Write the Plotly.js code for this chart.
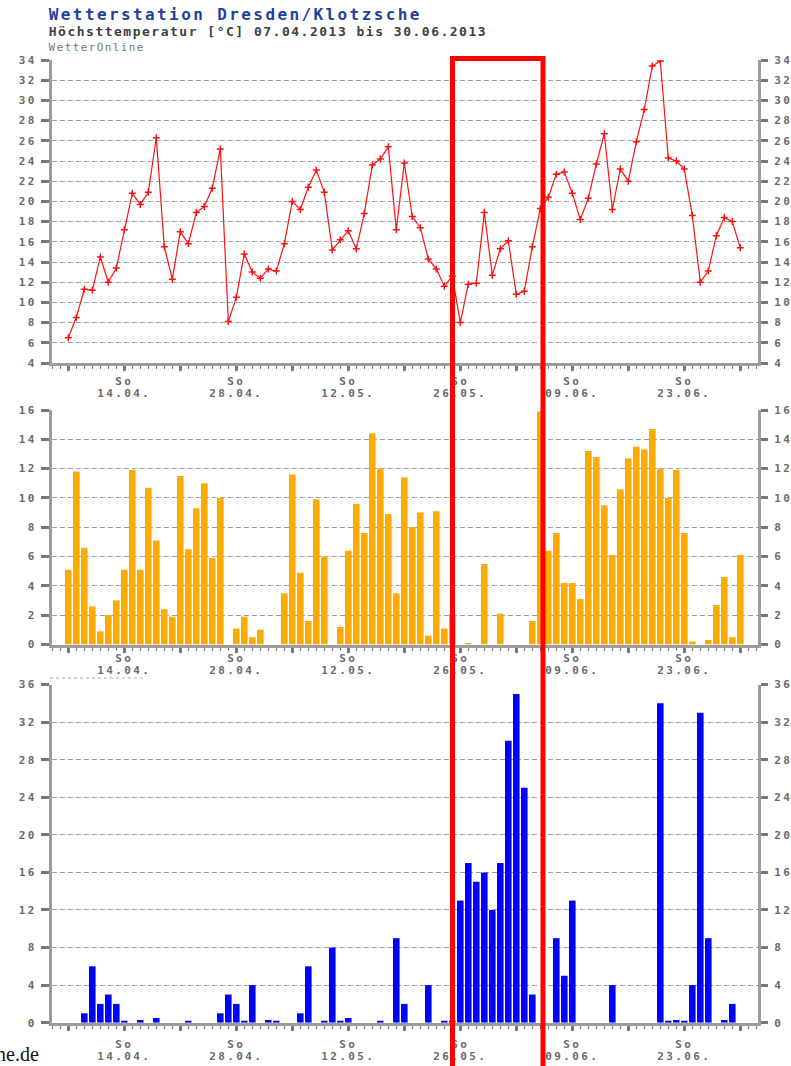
<!DOCTYPE html>
<html>
<head>
<meta charset="utf-8">
<script src="https://cdn.plot.ly/plotly-3.0.1.min.js"></script>
<style>
  html, body { margin: 0; padding: 0; background: #fff; }
  #chart { width: 791px; height: 1066px; }
  g[class$="tick"] text { letter-spacing: 2.4px; }
  g.annotation[data-index="0"] text { letter-spacing: 2.4px; }
  g.annotation[data-index="1"] text { letter-spacing: 1.5px; }
  g.annotation[data-index="2"] text { letter-spacing: 1.4px; }
</style>
</head>
<body>
<div id="chart"></div>
<script>
// ---- data (07.04.2013 .. 30.06.2013, one value per day) ----
const startDate = '2013-04-07';
const tempMax = [6.5, 8.5, 11.3, 11.2, 14.5, 12.0, 13.4, 17.2, 20.8, 19.7,
  20.9, 26.3, 15.5, 12.3, 17.0, 15.8, 18.9, 19.5, 21.3, 25.2,
  8.1, 10.5, 14.8, 13.0, 12.4, 13.3, 13.1, 15.8, 20.0, 19.2,
  21.4, 23.1, 20.9, 15.2, 16.2, 17.1, 15.3, 18.8, 23.6, 24.2,
  25.4, 17.2, 23.8, 18.5, 17.4, 14.3, 13.3, 11.6, 12.6, 8.0,
  11.8, 11.9, 18.9, 12.7, 15.3, 16.1, 10.8, 11.1, 15.5, 19.3,
  20.4, 22.7, 22.9, 20.8, 18.2, 20.3, 23.7, 26.7, 19.2, 23.2,
  22.0, 25.9, 29.1, 33.4, 33.9, 24.3, 24.0, 23.2, 18.6, 12.0,
  13.1, 16.6, 18.4, 18.0, 15.4];
const sunHours = [5.1, 11.8, 6.6, 2.6, 0.9, 2.0, 3.0, 5.1, 11.9, 5.1,
  10.7, 7.1, 2.4, 1.9, 11.5, 6.5, 9.3, 11.0, 5.9, 10.0,
  0, 1.1, 1.9, 0.5, 1.0, 0, 0, 3.5, 11.6, 4.9,
  1.6, 9.9, 6.0, 0, 1.2, 6.4, 9.6, 7.6, 14.4, 12.0,
  8.9, 3.5, 11.4, 8.0, 9.0, 0.6, 9.1, 1.1, 2.1, 0,
  0.1, 0, 5.5, 0, 2.1, 0, 0, 0, 1.6, 15.9,
  6.4, 7.6, 4.2, 4.2, 3.1, 13.2, 12.8, 9.5, 6.1, 10.6,
  12.7, 13.5, 13.3, 14.7, 12.0, 10.0, 11.9, 7.6, 0.2, 0,
  0.3, 2.7, 4.6, 0.5, 6.1];
const precip = [0, 0, 1, 6, 2, 3, 2, 0.2, 0, 0.3,
  0, 0.5, 0, 0, 0, 0.2, 0, 0, 0, 1,
  3, 2, 0.2, 4, 0, 0.3, 0.2, 0, 0, 1,
  6, 0, 0.2, 8, 0.2, 0.5, 0, 0, 0, 0.2,
  0, 9, 2, 0, 0, 4, 0, 0.2, 0.2, 13,
  17, 15, 16, 12, 17, 30, 35, 25, 3, 0,
  0, 9, 5, 13, 0, 0, 0, 0, 4, 0,
  0, 0, 0, 0, 34, 0.2, 0.3, 0.2, 4, 33,
  9, 0, 0.3, 2, 0];
const weekTicks = ['2013-04-07', '2013-04-14', '2013-04-21', '2013-04-28', '2013-05-05',
  '2013-05-12', '2013-05-19', '2013-05-26', '2013-06-02', '2013-06-09',
  '2013-06-16', '2013-06-23', '2013-06-30'];
const weekLabels = ['', 'So<br>14.04.', '', 'So<br>28.04.', '', 'So<br>12.05.', '',
  'So<br>26.05.', '', 'So<br>09.06.', '', 'So<br>23.06.', ''];

// ---- helpers (pixel -> paper) ----
const W = 791, H = 1066;
const PX = v => v / W;
const PY = v => 1 - v / H;
const DAY = 86400000;

const fontMono = 'DejaVu Sans Mono, Liberation Mono, monospace';
const tickFont = {family: fontMono, size: 11, color: '#6a6a6a', weight: 'bold'};
const xRange = ['2013-04-04 23:06', '2013-07-02 05:06'];
const xDomain = [PX(52), PX(758)];

function xAxis(anchor, standoff) {
  return {
    type: 'date', range: xRange, domain: xDomain, anchor: anchor,
    tickmode: 'array', tickvals: weekTicks, ticktext: weekLabels,
    ticks: 'outside', ticklen: 5, tickwidth: 3, tickcolor: '#777',
    ticklabelstandoff: standoff,
    showline: true, linecolor: '#9c9c9c', linewidth: 3,
    showgrid: false, zeroline: false, tickfont: tickFont,
    minor: {tickmode: 'linear', tick0: startDate, dtick: DAY, ticks: 'outside',
            ticklen: 3, tickwidth: 1, tickcolor: '#777', showgrid: false}
  };
}
function yAxis(domain, range, dtick, anchor) {
  return {
    domain: domain, range: range, dtick: dtick, tick0: 0, anchor: anchor,
    ticks: 'outside', ticklen: 8, tickwidth: 3, tickcolor: '#777',
    ticklabelstandoff: 2,
    showline: true, linecolor: '#9c9c9c', linewidth: 3,
    showgrid: true, gridcolor: '#a0a0a0', gridwidth: 1, griddash: '5px,3px',
    zeroline: false, tickfont: tickFont, fixedrange: true
  };
}
function yAxisRight(over, range, dtick, anchor) {
  return {
    overlaying: over, side: 'right', anchor: anchor, range: range, dtick: dtick, tick0: 0,
    ticks: 'outside', ticklen: 7, tickwidth: 3, tickcolor: '#777',
    ticklabelstandoff: 4,
    showline: true, linecolor: '#9c9c9c', linewidth: 3,
    showgrid: false, zeroline: false, tickfont: tickFont, fixedrange: true
  };
}

const barWidth = 0.82 * DAY;
const traces = [
  {type: 'scatter', mode: 'lines+markers', x0: startDate, dx: DAY, y: tempMax,
   xaxis: 'x', yaxis: 'y', line: {color: '#ff1010', width: 1.2},
   marker: {symbol: 'cross-thin', size: 5, line: {color: '#ff1010', width: 1.5}},
   hoverinfo: 'skip'},
  {type: 'scatter', mode: 'lines', x0: startDate, dx: DAY, y: tempMax,
   xaxis: 'x', yaxis: 'y4', opacity: 0, line: {width: 0}, hoverinfo: 'skip'},
  {type: 'bar', x0: startDate, dx: DAY, y: sunHours, width: barWidth,
   xaxis: 'x2', yaxis: 'y2', marker: {color: '#ffaa00', line: {width: 0}},
   hoverinfo: 'skip'},
  {type: 'bar', x0: startDate, dx: DAY, y: sunHours, width: barWidth,
   xaxis: 'x2', yaxis: 'y5', opacity: 0, marker: {line: {width: 0}}, hoverinfo: 'skip'},
  {type: 'bar', x0: startDate, dx: DAY, y: precip, width: barWidth,
   xaxis: 'x3', yaxis: 'y3', marker: {color: '#0000ff', line: {width: 0}},
   hoverinfo: 'skip'},
  {type: 'bar', x0: startDate, dx: DAY, y: precip, width: barWidth,
   xaxis: 'x3', yaxis: 'y6', opacity: 0, marker: {line: {width: 0}}, hoverinfo: 'skip'}
];

const layout = {
  width: W, height: H, margin: {l: 0, r: 0, t: 0, b: 0, pad: 0},
  paper_bgcolor: '#ffffff', plot_bgcolor: '#ffffff', showlegend: false,
  barmode: 'overlay',
  xaxis: xAxis('y', 1),
  xaxis2: xAxis('y2', -4),
  xaxis3: xAxis('y3', 4),
  yaxis: yAxis([PY(363), PY(60)], [4, 34], 2, 'x'),
  yaxis2: yAxis([PY(644.5), PY(410)], [0, 16], 2, 'x2'),
  yaxis3: yAxis([PY(1022.7), PY(684.5)], [0, 36], 4, 'x3'),
  yaxis4: yAxisRight('y', [4, 34], 2, 'x'),
  yaxis5: yAxisRight('y2', [0, 16], 2, 'x2'),
  yaxis6: yAxisRight('y3', [0, 36], 4, 'x3'),
  annotations: [
    {xref: 'paper', yref: 'paper', x: PX(47), y: PY(14), xanchor: 'left', yanchor: 'middle',
     xshift: 37, text: 'Wetterstation Dresden/Klotzsche', showarrow: false,
     font: {family: fontMono, size: 16, color: '#1f3fa0', weight: 'bold'}},
    {xref: 'paper', yref: 'paper', x: PX(47), y: PY(32), xanchor: 'left', yanchor: 'middle',
     xshift: 35, text: 'Höchsttemperatur [°C] 07.04.2013 bis 30.06.2013', showarrow: false,
     font: {family: fontMono, size: 13, color: '#404040', weight: 'bold'}},
    {xref: 'paper', yref: 'paper', x: PX(47), y: PY(47), xanchor: 'left', yanchor: 'middle',
     xshift: 8, text: 'WetterOnline', showarrow: false,
     font: {family: fontMono, size: 11, color: '#777777'}},
    {xref: 'paper', yref: 'paper', x: PX(41), y: PY(1054), xanchor: 'right', yanchor: 'middle',
     text: 'wetteronline.de', showarrow: false,
     font: {family: 'Liberation Serif, DejaVu Serif, serif', size: 20, color: '#111111'}}
  ],
  shapes: [
    {type: 'line', xref: 'paper', yref: 'paper', x0: PX(50), x1: PX(143), y0: PY(678), y1: PY(678),
     line: {color: '#aaaaaa', width: 1, dash: 'dot'}},
    {type: 'rect', xref: 'paper', yref: 'paper', layer: 'above',
     x0: PX(452.5), x1: PX(543), y0: -0.05, y1: PY(58.5),
     line: {color: '#ff0000', width: 5}, fillcolor: 'rgba(0,0,0,0)'}
  ]
};

Plotly.newPlot('chart', traces, layout, {staticPlot: true, displayModeBar: false}).then(function (gd) {
  // tighter line spacing for the two-line date labels ("So" / "dd.mm.")
  gd.querySelectorAll('g[class$="tick"] text').forEach(function (t) {
    var lines = t.querySelectorAll('tspan.line');
    for (var k = 1; k < lines.length; k++) {
      lines[k].setAttribute('dy', '1.08em');
    }
  });
});
</script>
</body>
</html>
